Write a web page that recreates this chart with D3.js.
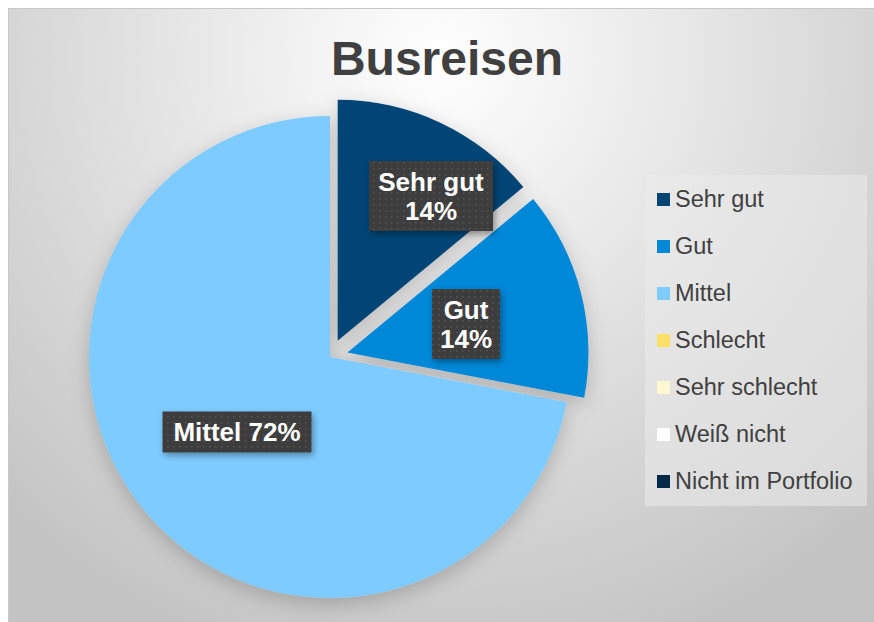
<!DOCTYPE html>
<html>
<head>
<meta charset="utf-8">
<script src="https://cdn.jsdelivr.net/npm/d3@7"></script>
<style>
  html, body { margin: 0; padding: 0; background: #fff; }
  svg { display: block; font-family: Arial, "Liberation Sans", sans-serif; }
</style>
</head>
<body>
<div id="chart"></div>
<script>
const categories = ['Sehr gut', 'Gut', 'Mittel', 'Schlecht', 'Sehr schlecht', 'Weiß nicht', 'Nicht im Portfolio']
const values = [14, 14, 72, 0, 0, 0, 0]
const colors = ['#004474', '#0088d8', '#7dcbff', '#ffe066', '#fff6d2', '#ffffff', '#002a48']
const exploded = [true, true, false, false, false, false, false]
const labelLines = [['Sehr gut', '14%'], ['Gut', '14%'], ['Mittel 72%']]

const SIZE = Object.freeze({ WIDTH: 874, HEIGHT: 622 })
const PIE = Object.freeze({ CX: 330, CY: 357, R: 241, EXPLODE: 18 })

const svg = d3.select('#chart')
  .append('svg')
  .attr('width', SIZE.WIDTH)
  .attr('height', SIZE.HEIGHT)

const defs = svg.append('defs')

const bg = defs.append('radialGradient')
  .attr('id', 'bg')
  .attr('gradientUnits', 'userSpaceOnUse')
  .attr('cx', 440).attr('cy', 60).attr('r', 620)
bg.append('stop').attr('offset', '0%').attr('stop-color', '#ffffff')
bg.append('stop').attr('offset', '100%').attr('stop-color', '#c4c4c4')

const dots = defs.append('pattern')
  .attr('id', 'dots')
  .attr('width', 6).attr('height', 6)
  .attr('patternUnits', 'userSpaceOnUse')
dots.append('rect').attr('width', 6).attr('height', 6).attr('fill', '#3e3e3e')
dots.append('rect').attr('x', 2).attr('y', 2).attr('width', 1.5).attr('height', 1.5).attr('fill', '#565656')

const shadow = defs.append('filter').attr('id', 'shadow')
  .attr('x', '-20%').attr('y', '-20%').attr('width', '140%').attr('height', '140%')
shadow.append('feDropShadow')
  .attr('dx', 2).attr('dy', 3).attr('stdDeviation', 3)
  .attr('flood-color', '#000').attr('flood-opacity', 0.35)

const pieShadow = defs.append('filter').attr('id', 'pieShadow')
  .attr('x', '-20%').attr('y', '-20%').attr('width', '140%').attr('height', '140%')
pieShadow.append('feDropShadow')
  .attr('dx', 0).attr('dy', 6).attr('stdDeviation', 10)
  .attr('flood-color', '#000').attr('flood-opacity', 0.2)

svg.append('rect')
  .attr('x', 8.5).attr('y', 8.5)
  .attr('width', SIZE.WIDTH).attr('height', SIZE.HEIGHT)
  .attr('fill', 'url(#bg)')
  .attr('stroke', '#c8c8c8')

svg.append('text')
  .attr('x', 447)
  .attr('y', 75)
  .attr('text-anchor', 'middle')
  .attr('font-size', 48)
  .attr('font-weight', 'bold')
  .attr('fill', '#404040')
  .text('Busreisen')

// pie
const pieData = d3.pie().sort(null).value(d => d)(values)
const arc = d3.arc().innerRadius(0).outerRadius(PIE.R)

const offset = (d, i) => {
  if (!exploded[i]) return [0, 0]
  const mid = (d.startAngle + d.endAngle) / 2
  return [Math.sin(mid) * PIE.EXPLODE, -Math.cos(mid) * PIE.EXPLODE]
}

const pieG = svg.append('g')
  .attr('transform', `translate(${PIE.CX}, ${PIE.CY})`)
  .attr('filter', 'url(#pieShadow)')

pieG.selectAll('path')
  .data(pieData.filter(d => d.value > 0))
  .enter()
  .append('path')
  .attr('d', arc)
  .attr('fill', d => colors[d.index])
  .attr('transform', d => `translate(${offset(d, d.index)})`)

// data labels
const labelPos = [[431, 196], [466, 324], [237, 432]]
const labelWidths = [124, 68, 149]
const labelG = svg.append('g')
pieData.filter(d => d.value > 0).forEach(d => {
  const lines = labelLines[d.index]
  const [x, y] = labelPos[d.index]
  const g = labelG.append('g').attr('transform', `translate(${x}, ${y})`)
  const lineH = 29
  const w = labelWidths[d.index]
  const h = lines.length * lineH + 12
  g.append('rect')
    .attr('x', -w / 2).attr('y', -h / 2)
    .attr('width', w).attr('height', h)
    .attr('fill', 'url(#dots)')
    .attr('filter', 'url(#shadow)')
  lines.forEach((l, j) => {
    g.append('text')
      .attr('x', 0)
      .attr('y', (j - (lines.length - 1) / 2) * lineH + 9)
      .attr('text-anchor', 'middle')
      .attr('font-size', 26)
      .attr('font-weight', 'bold')
      .attr('fill', '#ffffff')
      .text(l)
  })
})

// legend
const legend = svg.append('g').attr('transform', 'translate(645, 175)')
legend.append('rect')
  .attr('width', 222).attr('height', 331)
  .attr('fill', '#ebebeb').attr('opacity', 0.55)

const legendY = d3.scalePoint().domain(categories).range([24, 306])
const items = legend.selectAll('g.item')
  .data(categories)
  .enter()
  .append('g')
  .attr('class', 'item')
  .attr('transform', d => `translate(0, ${legendY(d)})`)
items.append('rect')
  .attr('x', 12).attr('y', -6)
  .attr('width', 13).attr('height', 13)
  .attr('fill', (d, i) => colors[i])
items.append('text')
  .attr('x', 30).attr('y', 8)
  .attr('font-size', 23.5)
  .attr('fill', '#404040')
  .text(d => d)
</script>
</body>
</html>
